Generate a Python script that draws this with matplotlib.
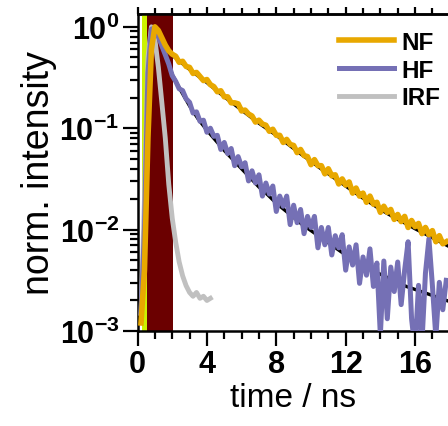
import matplotlib.pyplot as plt
from matplotlib.ticker import FixedLocator, FixedFormatter, MultipleLocator, LogLocator, NullFormatter

# time axis (ns) for the measured decays
t_nf = [0.2, 0.4, 0.6, 0.8, 1.0, 1.2, 1.4, 1.6, 1.8,
        2.0, 2.2, 2.4, 2.6, 2.8, 3.0, 3.2, 3.4, 3.6, 3.8,
        4.0, 4.2, 4.4, 4.6, 4.8, 5.0, 5.2, 5.4, 5.6, 5.8,
        6.0, 6.2, 6.4, 6.6, 6.8, 7.0, 7.2, 7.4, 7.6, 7.8,
        8.0, 8.2, 8.4, 8.6, 8.8, 9.0, 9.2, 9.4, 9.6, 9.8,
        10.0, 10.2, 10.4, 10.6, 10.8, 11.0, 11.2, 11.4, 11.6, 11.8,
        12.0, 12.2, 12.4, 12.6, 12.8, 13.0, 13.2, 13.4, 13.6, 13.8,
        14.0, 14.2, 14.4, 14.6, 14.8, 15.0, 15.2, 15.4, 15.6, 15.8,
        16.0, 16.2, 16.4, 16.6, 16.8, 17.0, 17.2, 17.4, 17.6, 17.8]

nf = [0.0012, 0.004, 0.08, 0.6, 1.0, 0.92, 0.78, 0.66, 0.58,
      0.537, 0.513, 0.447, 0.457, 0.407, 0.398, 0.347, 0.355, 0.324, 0.295,
      0.302, 0.269, 0.257, 0.229, 0.234, 0.204, 0.204, 0.178, 0.178, 0.174,
      0.148, 0.151, 0.138, 0.132, 0.115, 0.120, 0.110, 0.107, 0.0933, 0.0977,
      0.0851, 0.0851, 0.0724, 0.0776, 0.0692, 0.0676, 0.0575, 0.0617, 0.0537, 0.0525,
      0.0437, 0.0490, 0.0427, 0.0427, 0.0355, 0.0398, 0.0339, 0.0347, 0.0282, 0.0316,
      0.0275, 0.0295, 0.0229, 0.0257, 0.0214, 0.0229, 0.0186, 0.0214, 0.0178, 0.0186,
      0.0148, 0.0170, 0.0148, 0.0158, 0.0126, 0.0141, 0.0120, 0.0135, 0.0105, 0.0123,
      0.0107, 0.0115, 0.00912, 0.0105, 0.00891, 0.00977, 0.00759, 0.00871, 0.00724, 0.00759]

hf = [0.0015, 0.01, 0.35, 0.95, 0.97, 0.80, 0.65, 0.53, 0.43,
      0.330, 0.290, 0.245, 0.235, 0.195, 0.180, 0.141, 0.145, 0.117, 0.120,
      0.0912, 0.100, 0.0832, 0.0851, 0.0617, 0.0724, 0.0562, 0.0631, 0.0427, 0.0525,
      0.0417, 0.0457, 0.0302, 0.0380, 0.0288, 0.0347, 0.0214, 0.0288, 0.0224, 0.0269,
      0.0151, 0.0214, 0.0170, 0.0214, 0.0112, 0.0174, 0.0117, 0.0158, 0.00912, 0.0135,
      0.0105, 0.0135, 0.00661, 0.0105, 0.00708, 0.0105, 0.00562, 0.00871, 0.00661, 0.00891,
      0.00398, 0.00676, 0.00447, 0.00708, 0.00295, 0.00537, 0.00355, 0.00646, 0.00275, 0.00468,
      0.00091, 0.00490, 0.00132, 0.00427, 0.00245, 0.00479, 0.00182, 0.00398, 0.00759, 0.00132,
      0.00065, 0.00282, 0.00078, 0.00372, 0.00813, 0.00282, 0.00087, 0.00302, 0.00162, 0.00316]

t_irf = [0.2, 0.4, 0.6, 0.8, 1.0, 1.2, 1.4, 1.6, 1.8, 2.0, 2.2,
         2.4, 2.6, 2.8, 3.0, 3.2, 3.4, 3.6, 3.8, 4.0, 4.2]
irf = [0.0015, 0.02, 0.5, 1.0, 0.75, 0.40, 0.18, 0.08, 0.028, 0.013, 0.0075,
       0.0048, 0.0035, 0.0028, 0.0024, 0.0022, 0.0024, 0.0021, 0.0022, 0.0020, 0.0021]

# fitted decays
t_fit = [1.1, 1.5, 2.0, 2.5, 3.0, 3.5, 4.0, 4.5, 5.0, 5.5, 6.0, 6.5, 7.0, 7.5,
         8.0, 8.5, 9.0, 9.5, 10.0, 10.5, 11.0, 11.5, 12.0, 12.5, 13.0, 13.5,
         14.0, 14.5, 15.0, 15.5, 16.0, 16.5, 17.0, 17.5, 18.0]
nf_fit = [0.95, 0.70, 0.525, 0.447, 0.380, 0.327, 0.282, 0.240, 0.204, 0.176, 0.151,
          0.130, 0.112, 0.0977, 0.0851, 0.0733, 0.0631, 0.0543, 0.0473, 0.0407,
          0.0355, 0.0309, 0.0269, 0.0234, 0.0204, 0.0180, 0.0158, 0.0141, 0.0126,
          0.0114, 0.0102, 0.00923, 0.00832, 0.00750, 0.00676]
hf_fit = [0.90, 0.60, 0.339, 0.234, 0.166, 0.123, 0.0955, 0.0759, 0.0603, 0.0490,
          0.0398, 0.0324, 0.0263, 0.0221, 0.0182, 0.0155, 0.0132, 0.0112, 0.00977,
          0.00851, 0.00741, 0.00646, 0.00562, 0.00501, 0.00447, 0.00398, 0.00363,
          0.00331, 0.00302, 0.00275, 0.00257, 0.00240, 0.00224, 0.00209, 0.00195]

# excitation / gate windows (ns)
yellow_span = (0.25, 0.52)
red_span = (0.52, 2.05)

y_ticks = [1e-3, 1e-2, 1e-1, 1]
y_labels = [r'$\mathbf{10^{-3}}$', r'$\mathbf{10^{-2}}$', r'$\mathbf{10^{-1}}$', r'$\mathbf{10^{0}}$']
x_ticks = [0, 4, 8, 12, 16]

plt.rcParams['font.family'] = ['Liberation Sans', 'DejaVu Sans']
plt.rcParams['mathtext.fontset'] = 'custom'
plt.rcParams['mathtext.bf'] = 'Liberation Sans:bold'
plt.rcParams['mathtext.rm'] = 'Liberation Sans'

fig = plt.figure(figsize=(4.48, 4.27), dpi=100)
ax = fig.add_axes([0.307, 0.2225, 0.693, 0.7425])

ax.axvspan(*yellow_span, color='#CCF200', lw=0, zorder=1)
ax.axvspan(*red_span, color='#6B0000', lw=0, zorder=1)

ax.plot(t_fit, nf_fit, color='black', lw=2.4, zorder=2)
ax.plot(t_fit, hf_fit, color='black', lw=2.4, zorder=2)
ax.plot(t_irf, irf, color='#C0C0C0', lw=3.5, label='IRF', zorder=3)
ax.plot(t_nf, hf, color='#7570B5', lw=3.6, label='HF', zorder=4)
ax.plot(t_nf, nf, color='#E8A800', lw=4.0, label='NF', zorder=5)

ax.set_yscale('log')
ax.set_ylim(1e-3, 1.34)
ax.set_xlim(0, 17.9)

ax.yaxis.set_major_locator(FixedLocator(y_ticks))
ax.yaxis.set_major_formatter(FixedFormatter(y_labels))
ax.yaxis.set_minor_locator(LogLocator(base=10, subs=range(2, 10)))
ax.yaxis.set_minor_formatter(NullFormatter())
ax.xaxis.set_major_locator(FixedLocator(x_ticks))
ax.xaxis.set_minor_locator(MultipleLocator(1))

ax.tick_params(which='major', direction='out', length=11, width=1.6,
               labelsize=22, pad=2)
ax.tick_params(which='minor', direction='out', length=6, width=1.6)
for lab in ax.get_xticklabels() + ax.get_yticklabels():
    lab.set_fontweight('bold')

top = ax.secondary_xaxis('top')
top.xaxis.set_major_locator(FixedLocator(x_ticks))
top.xaxis.set_minor_locator(MultipleLocator(1))
top.tick_params(which='major', direction='out', length=5, width=1.6, labeltop=False)
top.tick_params(which='minor', direction='out', length=4, width=1.6)
top.spines['top'].set_linewidth(1.8)

for s in ['left', 'bottom', 'top']:
    ax.spines[s].set_linewidth(1.8)
ax.spines['right'].set_visible(False)

ax.set_xlabel('time / ns', fontsize=24, labelpad=2)
ax.set_ylabel('norm. intensity', fontsize=27, labelpad=2)

handles, labels = ax.get_legend_handles_labels()
order = [2, 1, 0]
leg = ax.legend([handles[i] for i in order], [labels[i] for i in order],
                loc='upper right', bbox_to_anchor=(1.0, 0.97), frameon=False,
                handlelength=2.3, handletextpad=0.3, labelspacing=0.2,
                borderpad=0.2, borderaxespad=0.1,
                prop={'weight': 'bold', 'size': 17.5})

fig.savefig('out.png', dpi=100)
